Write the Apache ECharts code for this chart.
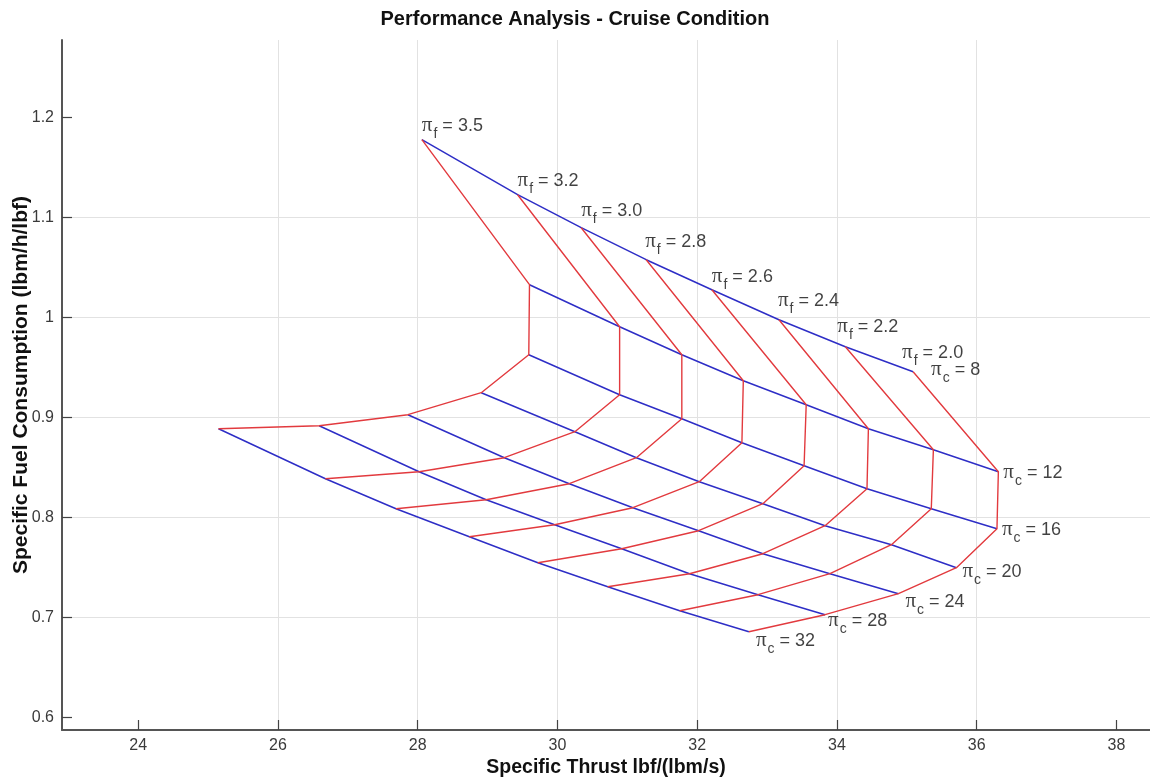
<!DOCTYPE html>
<html><head><meta charset="utf-8">
<script src="https://cdn.jsdelivr.net/npm/echarts@6/dist/echarts.min.js"></script>
<style>html,body{margin:0;padding:0;background:#fff}#c{width:1150px;height:783px}</style>
</head><body><div id="c"></div>
<script>
// Fan pressure ratio (columns) and compressor pressure ratio (rows)
const piF = ['3.5', '3.2', '3.0', '2.8', '2.6', '2.4', '2.2', '2.0'];
const piC = [8, 12, 16, 20, 24, 28, 32];

// Specific thrust lbf/(lbm/s) per pi_c row, ordered by piF
const thrustPc8  = [28.06, 29.43, 30.34, 31.27, 32.21, 33.17, 34.12, 35.09];
const thrustPc12 = [29.60, 30.89, 31.78, 32.66, 33.56, 34.45, 35.38, 36.31];
const thrustPc16 = [29.59, 30.89, 31.78, 32.64, 33.53, 34.43, 35.35, 36.29];
const thrustPc20 = [28.91, 30.25, 31.13, 32.03, 32.94, 33.83, 34.78, 35.71];
const thrustPc24 = [27.86, 29.24, 30.17, 31.08, 32.02, 32.94, 33.90, 34.88];
const thrustPc28 = [26.59, 28.02, 28.98, 29.96, 30.92, 31.89, 32.87, 33.83];
const thrustPc32 = [25.15, 26.68, 27.69, 28.74, 29.72, 30.72, 31.75, 32.74];

// Specific fuel consumption (lbm/h/lbf) per pi_c row, ordered by piF
const sfcPc8  = [1.178, 1.123, 1.090, 1.058, 1.028, 0.998, 0.971, 0.946];
const sfcPc12 = [1.033, 0.991, 0.963, 0.937, 0.913, 0.889, 0.868, 0.846];
const sfcPc16 = [0.963, 0.923, 0.899, 0.875, 0.852, 0.829, 0.809, 0.789];
const sfcPc20 = [0.925, 0.886, 0.860, 0.836, 0.814, 0.792, 0.773, 0.750];
const sfcPc24 = [0.903, 0.860, 0.834, 0.810, 0.787, 0.764, 0.744, 0.724];
const sfcPc28 = [0.892, 0.846, 0.818, 0.793, 0.769, 0.744, 0.723, 0.703];
const sfcPc32 = [0.889, 0.839, 0.809, 0.781, 0.755, 0.731, 0.707, 0.686];

// Axis ticks
const xTicks = [24, 26, 28, 30, 32, 34, 36, 38];
const yTicks = [0.6, 0.7, 0.8, 0.9, 1, 1.1, 1.2];

const thrustRows = [thrustPc8, thrustPc12, thrustPc16, thrustPc20, thrustPc24, thrustPc28, thrustPc32];
const sfcRows = [sfcPc8, sfcPc12, sfcPc16, sfcPc20, sfcPc24, sfcPc28, sfcPc32];

const BLUE = '#2e2ec6', RED = '#e23a3e';
const series = [];
piC.forEach((pc, i) => {
  series.push({
    type: 'line', name: 'pc' + pc, symbol: 'none', silent: true, animation: false,
    lineStyle: { color: BLUE, width: 1.5 },
    data: thrustRows[i].map((t, j) => [t, sfcRows[i][j]])
  });
});
piF.forEach((pf, j) => {
  series.push({
    type: 'line', name: 'pf' + pf, symbol: 'none', silent: true, animation: false,
    lineStyle: { color: RED, width: 1.4 },
    data: piC.map((pc, i) => [thrustRows[i][j], sfcRows[i][j]])
  });
});

const rich = {
  pi: { fontFamily: 'Liberation Serif', fontSize: 21, color: '#111' },
  sub: { fontFamily: 'Liberation Sans', fontSize: 14, color: '#111', padding: [17, 0, 0, 1] },
  txt: { fontFamily: 'Liberation Sans', fontSize: 18, color: '#111' }
};
const fOffsets = [[0, -14], [0, -14], [0, -17], [-1, -18], [0, -13], [-1, -19], [-8, -20], [-11, -19]];
const cOffsets = [[18, -2], [5, 1], [5, 1], [6, 4], [7, 8], [3, 6], [7, 9]];
const last = piF.length - 1;

const labelBase = { show: true, position: 'right', distance: 0, align: 'left', verticalAlign: 'middle', color: '#111', rich: rich };

series.push({
  type: 'scatter', symbolSize: 0, silent: true, animation: false, z: 5,
  data: piF.map((pf, j) => ({
    value: [thrustPc8[j], sfcPc8[j]],
    label: Object.assign({}, labelBase, { formatter: '{pi|π}{sub|f}{txt| = ' + pf + '}', offset: fOffsets[j] })
  }))
});
series.push({
  type: 'scatter', symbolSize: 0, silent: true, animation: false, z: 5,
  data: piC.map((pc, i) => ({
    value: [thrustRows[i][last], sfcRows[i][last]],
    label: Object.assign({}, labelBase, { formatter: '{pi|π}{sub|c}{txt| = ' + pc + '}', offset: cOffsets[i] })
  }))
});

const chart = echarts.init(document.getElementById('c'), null, { renderer: 'canvas' });
chart.setOption({
  backgroundColor: '#fff',
  animation: false,
  title: {
    text: 'Performance Analysis - Cruise Condition', left: 'center', top: 4,
    textStyle: { fontFamily: 'Liberation Sans', fontSize: 20, fontWeight: 'bold', color: '#111' }
  },
  grid: { left: 62, right: 0, top: 40, bottom: 53, containLabel: false, outerBoundsMode: 'none' },
  xAxis: {
    type: 'value', min: 22.91, max: 38.48,
    name: 'Specific Thrust lbf/(lbm/s)', nameLocation: 'middle', nameGap: 28, nameMoveOverlap: false,
    nameTextStyle: { fontFamily: 'Liberation Sans', fontSize: 19.5, fontWeight: 'bold', color: '#111' },
    axisLine: { show: true, onZero: false, lineStyle: { color: '#555', width: 2 } },
    axisTick: { show: true, inside: true, length: 10, customValues: xTicks, lineStyle: { color: '#444', width: 1.2 } },
    axisLabel: { customValues: xTicks, fontFamily: 'Liberation Sans', fontSize: 16, color: '#3a3a3a', margin: 8 },
    splitLine: { show: true, showMinLine: false, showMaxLine: false, lineStyle: { color: '#e2e2e2', width: 1 } }
  },
  yAxis: {
    type: 'value', min: 0.5877, max: 1.2777,
    name: 'Specific Fuel Consumption (lbm/h/lbf)', nameLocation: 'middle', nameGap: 30, nameMoveOverlap: false,
    nameTextStyle: { fontFamily: 'Liberation Sans', fontSize: 21, fontWeight: 'bold', color: '#111' },
    axisLine: { show: true, onZero: false, lineStyle: { color: '#555', width: 2 } },
    axisTick: { show: true, inside: true, length: 10, customValues: yTicks, lineStyle: { color: '#444', width: 1.2 } },
    axisLabel: { customValues: yTicks, fontFamily: 'Liberation Sans', fontSize: 16, color: '#3a3a3a', margin: 8 },
    splitLine: { show: true, showMinLine: false, showMaxLine: false, lineStyle: { color: '#e2e2e2', width: 1 } }
  },
  series: series
});
</script>
</body></html>
